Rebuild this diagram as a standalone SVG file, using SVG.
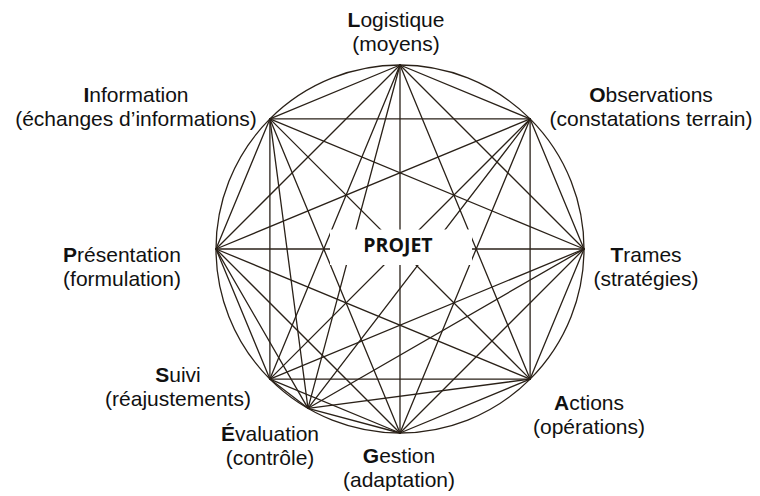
<svg xmlns="http://www.w3.org/2000/svg" width="760" height="496" viewBox="0 0 760 496">
<style>
  .ln { stroke: #2a2118; stroke-width: 1.3; fill: none; stroke-linecap: round; }
  .lbl { font-family: "Liberation Sans", Arial, sans-serif; font-size: 21px; fill: #111; text-anchor: middle; }
  .b { font-weight: bold; }
  .center { font-family: "Open Sans", "Noto Sans", "DejaVu Sans", sans-serif; font-size: 19.5px; font-weight: bold; fill: #111; text-anchor: middle; }
</style>
<rect x="0" y="0" width="760" height="496" fill="#fff"/>
<g id="connectors">
  <circle class="ln" cx="400" cy="249" r="184"/>
  <line class="ln" x1="400" y1="65" x2="530.1" y2="118.9"/>
  <line class="ln" x1="400" y1="65" x2="584" y2="249"/>
  <line class="ln" x1="400" y1="65" x2="530.1" y2="379.1"/>
  <line class="ln" x1="400" y1="65" x2="400" y2="433"/>
  <line class="ln" x1="400" y1="65" x2="308" y2="408.3"/>
  <line class="ln" x1="400" y1="65" x2="269.9" y2="379.1"/>
  <line class="ln" x1="400" y1="65" x2="216" y2="249"/>
  <line class="ln" x1="400" y1="65" x2="269.9" y2="118.9"/>
  <line class="ln" x1="530.1" y1="118.9" x2="584" y2="249"/>
  <line class="ln" x1="530.1" y1="118.9" x2="530.1" y2="379.1"/>
  <line class="ln" x1="530.1" y1="118.9" x2="400" y2="433"/>
  <line class="ln" x1="530.1" y1="118.9" x2="308" y2="408.3"/>
  <line class="ln" x1="530.1" y1="118.9" x2="269.9" y2="379.1"/>
  <line class="ln" x1="530.1" y1="118.9" x2="216" y2="249"/>
  <line class="ln" x1="530.1" y1="118.9" x2="269.9" y2="118.9"/>
  <line class="ln" x1="584" y1="249" x2="530.1" y2="379.1"/>
  <line class="ln" x1="584" y1="249" x2="400" y2="433"/>
  <line class="ln" x1="584" y1="249" x2="308" y2="408.3"/>
  <line class="ln" x1="584" y1="249" x2="269.9" y2="379.1"/>
  <line class="ln" x1="584" y1="249" x2="216" y2="249"/>
  <line class="ln" x1="584" y1="249" x2="269.9" y2="118.9"/>
  <line class="ln" x1="530.1" y1="379.1" x2="400" y2="433"/>
  <line class="ln" x1="530.1" y1="379.1" x2="308" y2="408.3"/>
  <line class="ln" x1="530.1" y1="379.1" x2="269.9" y2="379.1"/>
  <line class="ln" x1="530.1" y1="379.1" x2="216" y2="249"/>
  <line class="ln" x1="530.1" y1="379.1" x2="269.9" y2="118.9"/>
  <line class="ln" x1="400" y1="433" x2="308" y2="408.3"/>
  <line class="ln" x1="400" y1="433" x2="269.9" y2="379.1"/>
  <line class="ln" x1="400" y1="433" x2="216" y2="249"/>
  <line class="ln" x1="400" y1="433" x2="269.9" y2="118.9"/>
  <line class="ln" x1="308" y1="408.3" x2="269.9" y2="379.1"/>
  <line class="ln" x1="308" y1="408.3" x2="216" y2="249"/>
  <line class="ln" x1="308" y1="408.3" x2="269.9" y2="118.9"/>
  <line class="ln" x1="269.9" y1="379.1" x2="216" y2="249"/>
  <line class="ln" x1="269.9" y1="379.1" x2="269.9" y2="118.9"/>
  <line class="ln" x1="216" y1="249" x2="269.9" y2="118.9"/>
</g>
<g id="projet">
  <rect x="330" y="229.5" width="142" height="35.5" fill="#fff"/>
  <text class="center" x="398" y="252">PROJET</text>
</g>
<g id="logistique">
  <text class="lbl" x="396" y="27"><tspan class="b">L</tspan>ogistique<tspan x="396" dy="23.8">(moyens)</tspan></text>
</g>
<g id="observations">
  <text class="lbl" x="651" y="102"><tspan class="b">O</tspan>bservations<tspan x="651" dy="23.8">(constatations terrain)</tspan></text>
</g>
<g id="trames">
  <text class="lbl" x="646" y="262"><tspan class="b">T</tspan>rames<tspan x="646" dy="23.8">(stratégies)</tspan></text>
</g>
<g id="actions">
  <text class="lbl" x="589" y="410"><tspan class="b">A</tspan>ctions<tspan x="589" dy="23.8">(opérations)</tspan></text>
</g>
<g id="gestion">
  <text class="lbl" x="399" y="463"><tspan class="b">G</tspan>estion<tspan x="399" dy="23.8">(adaptation)</tspan></text>
</g>
<g id="evaluation">
  <text class="lbl" x="270" y="441"><tspan class="b">É</tspan>valuation<tspan x="270" dy="23.8">(contrôle)</tspan></text>
</g>
<g id="suivi">
  <text class="lbl" x="178" y="382"><tspan class="b">S</tspan>uivi<tspan x="178" dy="23.8">(réajustements)</tspan></text>
</g>
<g id="presentation">
  <text class="lbl" x="122" y="262"><tspan class="b">P</tspan>résentation<tspan x="122" dy="23.8">(formulation)</tspan></text>
</g>
<g id="information">
  <text class="lbl" x="136" y="102"><tspan class="b">I</tspan>nformation<tspan x="136" dy="23.8">(échanges d’informations)</tspan></text>
</g>
</svg>
